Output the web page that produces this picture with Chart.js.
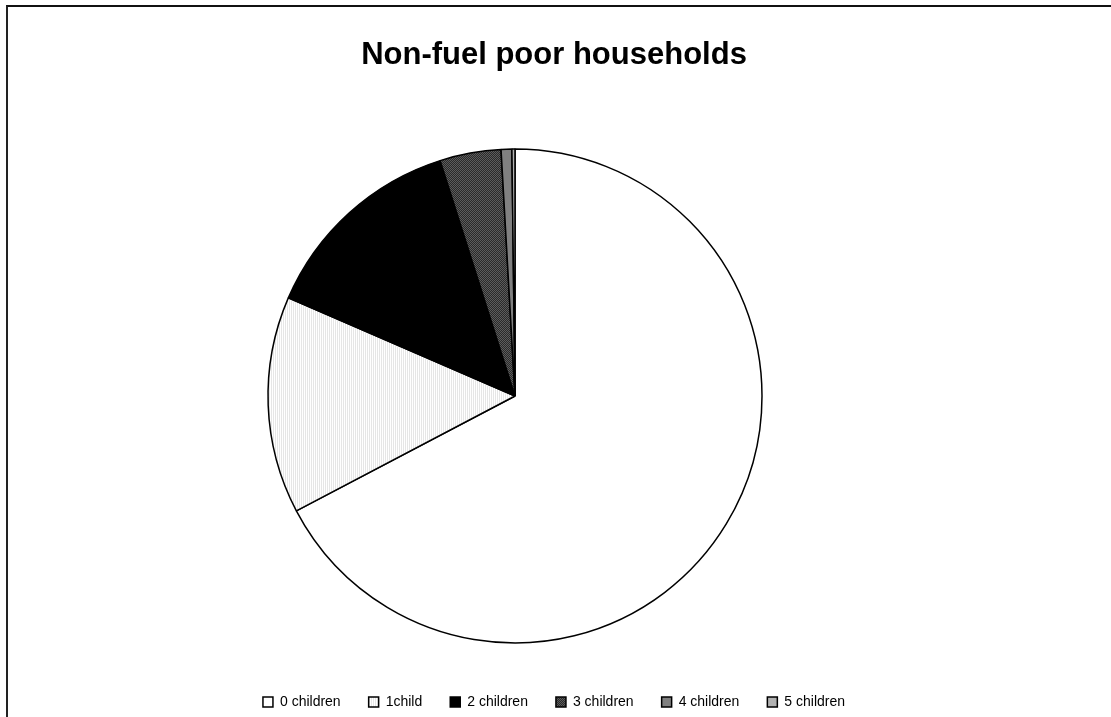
<!DOCTYPE html>
<html>
<head>
<meta charset="utf-8">
<script src="https://cdn.jsdelivr.net/npm/chart.js@4.4.1/dist/chart.umd.min.js"></script>
<style>
  html, body { margin: 0; padding: 0; background: #fff; overflow: hidden; width: 1111px; height: 717px; }
  #frame { position: absolute; left: 6px; top: 5px; width: 1300px; height: 900px; border-left: 2px solid #222; border-top: 2px solid #111; }
  #households { position: absolute; left: 8px; top: 7px; }
</style>
</head>
<body>
<div id="frame"></div>
<canvas id="households" width="1092" height="712"></canvas>
<script>
// Households by number of children (share, %)
const categorias = ['0 children', '1child', '2 children', '3 children', '4 children', '5 children'];
const percentuais = [67.3, 14.2, 13.6, 4.0, 0.7, 0.2];

// Small canvas patterns for the hatched slices
function criarPadrao(cores, tamanho) {
    const c = document.createElement('canvas');
    c.width = tamanho;
    c.height = tamanho;
    const ctx = c.getContext('2d');
    for (let y = 0; y < tamanho; y++) {
        for (let x = 0; x < tamanho; x++) {
            ctx.fillStyle = cores[y][x];
            ctx.fillRect(x, y, 1, 1);
        }
    }
    return document.getElementById('households').getContext('2d').createPattern(c, 'repeat');
}

const listrasClaras = criarPadrao([['#ffffff', '#e6e6e6'], ['#ffffff', '#e6e6e6']], 2);
const xadrezEscuro = criarPadrao([['#2a2a2a', '#5c5c5c'], ['#5c5c5c', '#2a2a2a']], 2);

const fundos = ['#ffffff', listrasClaras, '#000000', xadrezEscuro, '#808080', '#b2b2b2'];

// Empty box on the right so the pie sits left of the title/legend centre
const recuoDireito = {
    id: 'recuoDireito',
    beforeInit(chart) {
        Chart.layouts.addBox(chart, {
            position: 'right',
            weight: 0,
            fullSize: false,
            options: { stackWeight: 1 },
            top: 0, left: 0, right: 0, bottom: 0, width: 0, height: 0,
            isHorizontal() { return false; },
            update(maxWidth, maxHeight) {
                this.width = 78;
                this.height = maxHeight;
                return {width: this.width, height: this.height};
            },
            draw() {}
        });
    }
};

new Chart(document.getElementById('households').getContext('2d'), {
    type: 'pie',
    data: {
        labels: categorias,
        datasets: [{
            data: percentuais,
            backgroundColor: fundos,
            borderColor: '#000000',
            borderWidth: 1.5,
            radius: 247
        }]
    },
    options: {
        responsive: false,
        animation: false,
        events: [],
        layout: { padding: 0 },
        plugins: {
            title: {
                display: true,
                text: 'Non-fuel poor households',
                color: '#000000',
                font: { family: '"Liberation Sans", Arial, sans-serif', size: 31, weight: 'bold' },
                padding: { top: 30, bottom: 50.8 }
            },
            legend: {
                position: 'bottom',
                labels: {
                    color: '#000000',
                    boxWidth: 10,
                    boxHeight: 10,
                    padding: 28,
                    font: { family: '"Liberation Sans", Arial, sans-serif', size: 14 }
                }
            },
            tooltip: { enabled: false }
        }
    },
    plugins: [recuoDireito]
});
</script>
</body>
</html>
